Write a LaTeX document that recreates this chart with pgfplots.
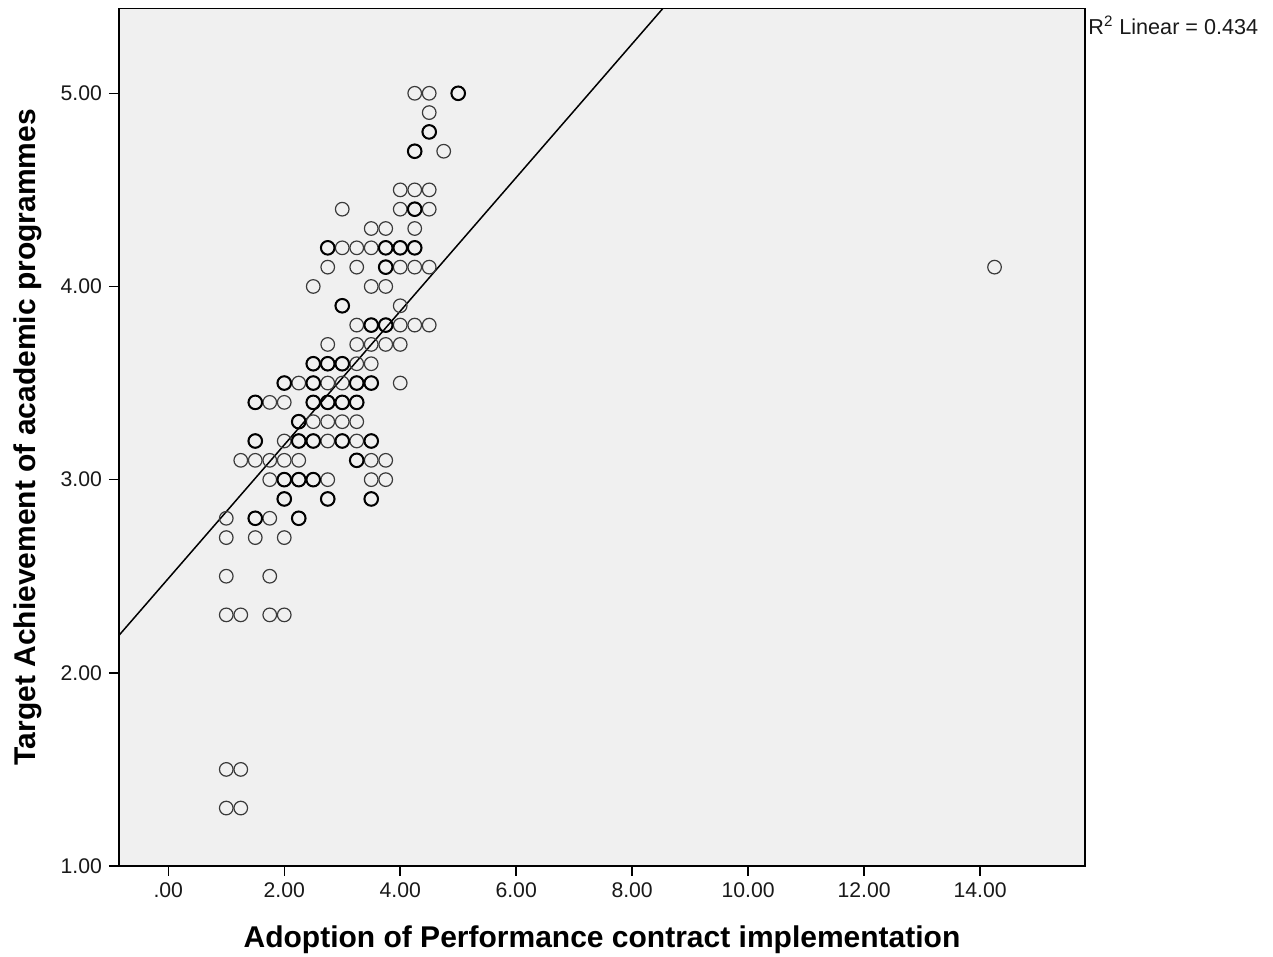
\documentclass[border=0pt]{standalone}
\usepackage{pgfplots}
\pgfplotsset{compat=1.18}
\usepackage{fontspec}
\setmainfont{Liberation Sans}
\definecolor{bgray}{HTML}{F0F0F0}
\definecolor{mk}{HTML}{3A3A3A}
\begin{document}
\begin{tikzpicture}
\begin{axis}[
  name=ax,
  at={(0pt,0pt)}, anchor=south west,
  scale only axis,
  width=483pt, height=428.85pt,
  xmin=-0.85, xmax=15.81,
  ymin=1, ymax=5.44,
  axis background/.style={fill=bgray},
  axis line style={black, line width=0.75pt},
  tick style={black, line width=0.75pt},
  tick align=outside,
  major tick length=5pt,
  xtick pos=bottom, ytick pos=left,
  xtick={0,2,4,6,8,10,12,14},
  xticklabels={.00,2.00,4.00,6.00,8.00,10.00,12.00,14.00},
  ytick={1,2,3,4,5},
  yticklabels={1.00,2.00,3.00,4.00,5.00},
  ticklabel style={font=\fontsize{10.6}{12}\selectfont, text=black!90},
  /pgf/number format/assume math mode=true,
  xlabel={Adoption of Performance contract implementation},
  ylabel={Target Achievement of academic programmes},
  xlabel style={font=\fontsize{15}{18}\selectfont\bfseries, at={(axis description cs:0.5,0)}, anchor=center, yshift=-37pt},
  ylabel style={font=\fontsize{15}{18}\selectfont\bfseries, at={(axis description cs:-0.0942,0.5)}, anchor=center},
]
% regression line
\addplot[black, line width=0.75pt, no marks] coordinates {(-0.85,2.194) (15.81,7.958)};
% regular circles
\addplot[only marks, mark=o, mark size=3.4pt, mark options={draw=mk, line width=0.6pt}] coordinates {
(4.25,5.0) (4.5,5.0) (5.0,5.0)
(4.5,4.9)
(4.5,4.8)
(4.25,4.7) (4.75,4.7)
(4.0,4.5) (4.25,4.5) (4.5,4.5)
(3.0,4.4) (4.0,4.4) (4.25,4.4) (4.5,4.4)
(3.5,4.3) (3.75,4.3) (4.25,4.3)
(2.75,4.2) (3.0,4.2) (3.25,4.2) (3.5,4.2) (3.75,4.2) (4.0,4.2) (4.25,4.2)
(2.75,4.1) (3.25,4.1) (3.75,4.1) (4.0,4.1) (4.25,4.1) (4.5,4.1)
(2.5,4.0) (3.5,4.0) (3.75,4.0)
(3.0,3.9) (4.0,3.9)
(3.25,3.8) (3.5,3.8) (3.75,3.8) (4.0,3.8) (4.25,3.8) (4.5,3.8)
(2.75,3.7) (3.25,3.7) (3.5,3.7) (3.75,3.7) (4.0,3.7)
(2.5,3.6) (2.75,3.6) (3.0,3.6) (3.25,3.6) (3.5,3.6)
(2.0,3.5) (2.25,3.5) (2.5,3.5) (2.75,3.5) (3.0,3.5) (3.25,3.5) (3.5,3.5) (4.0,3.5)
(1.5,3.4) (1.75,3.4) (2.0,3.4) (2.5,3.4) (2.75,3.4) (3.0,3.4) (3.25,3.4)
(2.25,3.3) (2.5,3.3) (2.75,3.3) (3.0,3.3) (3.25,3.3)
(1.5,3.2) (2.0,3.2) (2.25,3.2) (2.5,3.2) (2.75,3.2) (3.0,3.2) (3.25,3.2) (3.5,3.2)
(1.25,3.1) (1.5,3.1) (1.75,3.1) (2.0,3.1) (2.25,3.1) (3.25,3.1) (3.5,3.1) (3.75,3.1)
(1.75,3.0) (2.0,3.0) (2.25,3.0) (2.5,3.0) (2.75,3.0) (3.5,3.0) (3.75,3.0)
(2.0,2.9) (2.75,2.9) (3.5,2.9)
(1.0,2.8) (1.5,2.8) (1.75,2.8) (2.25,2.8)
(1.0,2.7) (1.5,2.7) (2.0,2.7)
(1.0,2.5) (1.75,2.5)
(1.0,2.3) (1.25,2.3) (1.75,2.3) (2.0,2.3)
(1.0,1.5) (1.25,1.5)
(1.0,1.3) (1.25,1.3)
(14.25,4.1)
};
% darker (overlapping) circles
\addplot[only marks, mark=o, mark size=3.4pt, mark options={draw=black, line width=1pt}] coordinates {
(5.0,5.0) (4.5,4.8) (4.25,4.7) (4.25,4.4)
(2.75,4.2) (3.75,4.2) (4.0,4.2) (4.25,4.2)
(3.75,4.1) (3.0,3.9) (3.5,3.8) (3.75,3.8)
(2.5,3.6) (2.75,3.6) (3.0,3.6)
(2.0,3.5) (2.5,3.5) (3.25,3.5) (3.5,3.5)
(1.5,3.4) (2.5,3.4) (2.75,3.4) (3.0,3.4) (3.25,3.4)
(2.25,3.3)
(1.5,3.2) (2.25,3.2) (2.5,3.2) (3.0,3.2) (3.5,3.2)
(3.25,3.1)
(2.0,3.0) (2.25,3.0) (2.5,3.0)
(2.0,2.9) (2.75,2.9) (3.5,2.9)
(1.5,2.8) (2.25,2.8)
};
\end{axis}
\node[anchor=west, inner sep=0pt, font=\fontsize{10.8}{12}\selectfont, text=black!90] at (484.5pt,420.5pt) {R\textsuperscript{2} Linear = 0.434};
\pgfresetboundingbox
\path[use as bounding box] (-59.5pt,-45.5pt) rectangle (577pt,433pt);
\end{tikzpicture}
\end{document}
